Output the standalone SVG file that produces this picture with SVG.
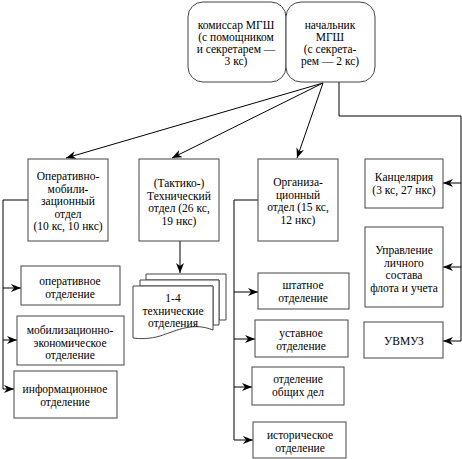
<svg xmlns="http://www.w3.org/2000/svg" width="462" height="459" viewBox="0 0 462 459">
<style>
.box{fill:#fff;stroke:#444;stroke-width:1}
.ln{fill:none;stroke:#000;stroke-width:1}
text{font-size:11.5px;fill:#000;text-anchor:middle}
</style>
<defs>
<marker id="ah" viewBox="0 0 10 8" refX="10" refY="4" markerWidth="10" markerHeight="8" markerUnits="userSpaceOnUse" orient="auto">
<path d="M0,0 L10,4 L0,8 L3,4 z" fill="#000"/>
</marker>
</defs>
<rect width="462" height="459" fill="#fff"/>
<g id="connectors">
<line class="ln" x1="323" y1="83" x2="66" y2="158" marker-end="url(#ah)"/>
<line class="ln" x1="323" y1="83" x2="172" y2="158" marker-end="url(#ah)"/>
<line class="ln" x1="323" y1="83" x2="297" y2="158" marker-end="url(#ah)"/>
<polyline class="ln" points="339,82 339,116 461,116 461,341"/>
<line class="ln" x1="461" y1="183" x2="443" y2="183" marker-end="url(#ah)"/>
<line class="ln" x1="461" y1="267" x2="443" y2="267" marker-end="url(#ah)"/>
<line class="ln" x1="461" y1="341" x2="443" y2="341" marker-end="url(#ah)"/>
<polyline class="ln" points="28,200 3,200 3,389"/>
<line class="ln" x1="3" y1="288" x2="21" y2="288" marker-end="url(#ah)"/>
<line class="ln" x1="3" y1="340" x2="17" y2="340" marker-end="url(#ah)"/>
<line class="ln" x1="3" y1="389" x2="14" y2="389" marker-end="url(#ah)"/>
<polyline class="ln" points="258,200 234,200 234,440"/>
<line class="ln" x1="234" y1="292" x2="258" y2="292" marker-end="url(#ah)"/>
<line class="ln" x1="234" y1="339" x2="255" y2="339" marker-end="url(#ah)"/>
<line class="ln" x1="234" y1="387" x2="252" y2="387" marker-end="url(#ah)"/>
<line class="ln" x1="234" y1="440" x2="253" y2="440" marker-end="url(#ah)"/>
<line class="ln" x1="180" y1="241" x2="180" y2="273" marker-end="url(#ah)"/>
</g>
<g font-family="'Liberation Serif', Tinos, 'Times New Roman', 'DejaVu Serif', serif">
<g id="komissar">
<rect class="box" x="188" y="2" width="98" height="80" rx="15"/>
<text x="236" y="29">комиссар МГШ</text>
<text x="236" y="41">(с помощником</text>
<text x="236" y="53">и секретарем —</text>
<text x="236" y="65">3 кс)</text>
</g>
<g id="nachalnik">
<rect class="box" x="286" y="2" width="89" height="80" rx="15"/>
<text x="330" y="29">начальник</text>
<text x="330" y="41">МГШ</text>
<text x="330" y="53">(с секрета-</text>
<text x="330" y="65">рем — 2 кс)</text>
</g>
<g id="oper-mob">
<rect class="box" x="28" y="159" width="80" height="82"/>
<text x="68" y="180">Оперативно-</text>
<text x="68" y="192.5">мобили-</text>
<text x="68" y="205">зационный</text>
<text x="68" y="217.5">отдел</text>
<text x="68" y="230">(10 кс, 10 нкс)</text>
</g>
<g id="tech">
<rect class="box" x="139" y="159" width="80" height="82"/>
<text x="179" y="187">(Тактико-)</text>
<text x="179" y="199.5">Технический</text>
<text x="179" y="212">отдел (26 кс,</text>
<text x="179" y="224.5">19 нкс)</text>
</g>
<g id="org">
<rect class="box" x="258" y="159" width="80" height="82"/>
<text x="298" y="186">Организа-</text>
<text x="298" y="198.5">ционный</text>
<text x="298" y="211">отдел (15 кс,</text>
<text x="298" y="223.5">12 нкс)</text>
</g>
<g id="kanc">
<rect class="box" x="365" y="159" width="78" height="49"/>
<text x="404" y="181">Канцелярия</text>
<text x="404" y="193.5">(3 кс, 27 нкс)</text>
</g>
<g id="upr">
<rect class="box" x="365" y="227" width="78" height="80"/>
<text x="404" y="254">Управление</text>
<text x="404" y="266.5">личного</text>
<text x="404" y="279">состава</text>
<text x="404" y="291.5">флота и учета</text>
</g>
<g id="uvmuz">
<rect class="box" x="364" y="322" width="79" height="36"/>
<text x="404" y="345">УВМУЗ</text>
</g>
<g id="oper-otd">
<rect class="box" x="21" y="266" width="99" height="39"/>
<text x="70" y="285">оперативное</text>
<text x="70" y="297.5">отделение</text>
</g>
<g id="mob-otd">
<rect class="box" x="17" y="316" width="107" height="49"/>
<text x="70" y="334">мобилизационно-</text>
<text x="70" y="346.5">экономическое</text>
<text x="70" y="359">отделение</text>
</g>
<g id="inf-otd">
<rect class="box" x="14" y="371" width="103" height="47"/>
<text x="65" y="393">информационное</text>
<text x="65" y="405.5">отделение</text>
</g>
<g id="tech-otd">
<path class="box" d="M146,274 H226 V320 L219,320 V280 H146 Z"/>
<path class="box" d="M140,280 H219 V325 L213,325 V286 H140 Z"/>
<path class="box" d="M133,286 H213 V330 C193,322 178,330 160,336 C150,339 140,339 133,338 Z"/>
<text x="173" y="302">1-4</text>
<text x="173" y="314.5">технические</text>
<text x="173" y="327">отделения</text>
</g>
<g id="shtat">
<rect class="box" x="258" y="273" width="91" height="36"/>
<text x="303" y="289">штатное</text>
<text x="303" y="301.5">отделение</text>
</g>
<g id="ustav">
<rect class="box" x="255" y="320" width="93" height="37"/>
<text x="301" y="337">уставное</text>
<text x="301" y="349.5">отделение</text>
</g>
<g id="obsh">
<rect class="box" x="252" y="367" width="92" height="38"/>
<text x="298" y="383">отделение</text>
<text x="298" y="395.5">общих дел</text>
</g>
<g id="istor">
<rect class="box" x="253" y="422" width="93" height="36"/>
<text x="300" y="439">историческое</text>
<text x="300" y="451.5">отделение</text>
</g>
</g>
</svg>
